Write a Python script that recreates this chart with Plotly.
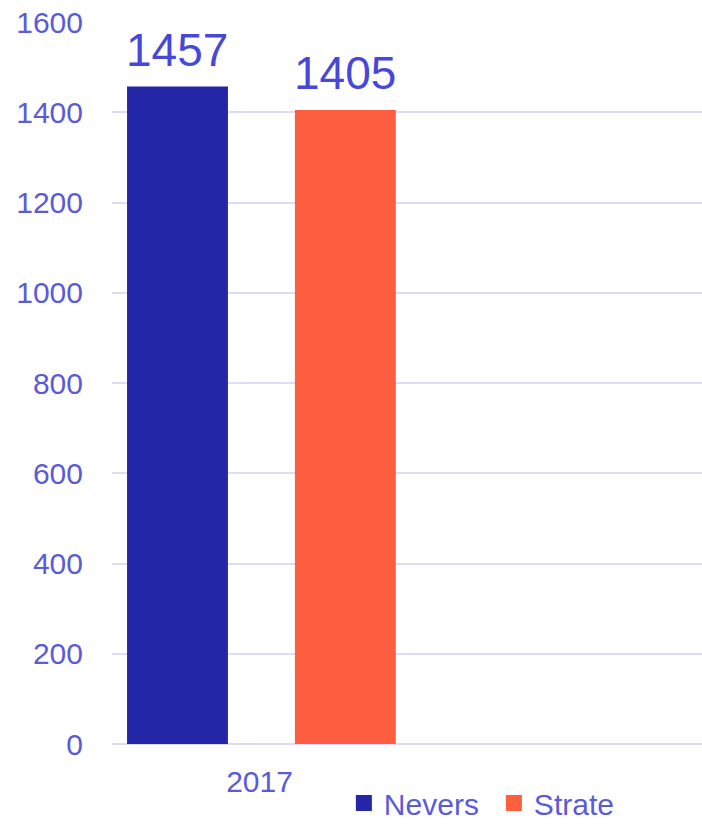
import plotly.graph_objects as go

# Data
categories = ["2017", " "]
series_names = ["Nevers", "Strate"]
series_values = [[1457], [1405]]
series_colors = ["#2327A7", "#FD5E40"]
y_ticks = [0, 200, 400, 600, 800, 1000, 1200, 1400, 1600]

# Bar geometry on the category axis (in category units)
bar_width = 0.342
bar_offsets = [-0.449, 0.120]

FONT = "Liberation Sans, Arial, sans-serif"
TICK_COLOR = "#5B5BD7"
LABEL_COLOR = "#4747D9"
GRID_COLOR = "#DCDCF6"

fig = go.Figure()
annotations = []
for name, vals, color, off in zip(series_names, series_values, series_colors, bar_offsets):
    fig.add_trace(go.Bar(
        name=name,
        x=[categories[0]] * len(vals),
        y=vals,
        width=bar_width,
        offset=off,
        marker=dict(color=color, line=dict(width=0)),
        legendgroup=name,
        showlegend=False,
    ))
    # larger square swatch for the legend entry
    fig.add_trace(go.Scatter(
        name=name, x=[None], y=[None], mode="markers",
        marker=dict(symbol="square", size=16, color=color, line=dict(width=0)),
        legendgroup=name, showlegend=True, hoverinfo="skip",
    ))
    for v in vals:
        annotations.append(dict(
            x=off + bar_width / 2, y=v, xref="x", yref="y",
            text=str(v), showarrow=False, yanchor="bottom", yshift=9,
            font=dict(family=FONT, size=46, color=LABEL_COLOR),
        ))

fig.update_layout(
    width=702, height=824,
    margin=dict(l=112, r=0, t=22, b=80, autoexpand=False),
    barmode="overlay",
    plot_bgcolor="white", paper_bgcolor="white",
    font=dict(family=FONT, size=30, color=TICK_COLOR),
    annotations=annotations,
    legend=dict(
        orientation="h", x=0.393, xanchor="left", y=-0.1177, yanchor="bottom",
        entrywidth=105, entrywidthmode="pixels", itemsizing="trace",
        font=dict(family=FONT, size=30, color=TICK_COLOR),
        bgcolor="rgba(0,0,0,0)",
    ),
    xaxis=dict(
        type="category", categoryorder="array", categoryarray=categories,
        range=[-0.5, 1.5], showgrid=False, zeroline=False,
        showline=False, ticks="", ticklabelstandoff=17,
        tickfont=dict(family=FONT, size=30, color=TICK_COLOR),
    ),
    yaxis=dict(
        range=[0, 1600], tickvals=y_ticks, showgrid=True,
        gridcolor=GRID_COLOR, gridwidth=1.5,
        zeroline=True, zerolinecolor=GRID_COLOR, zerolinewidth=2,
        showline=False, ticks="", ticklabelstandoff=28,
        tickfont=dict(family=FONT, size=30, color=TICK_COLOR),
    ),
)

fig.write_html("out.html")
